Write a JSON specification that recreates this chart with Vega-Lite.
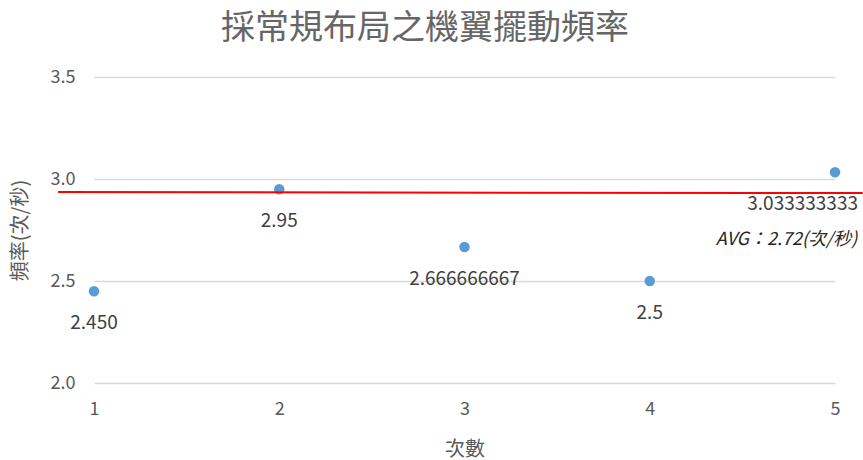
{
  "$schema": "https://vega.github.io/schema/vega-lite/v6.json",
  "autosize": {"type": "none"},
  "width": 741,
  "height": 306,
  "padding": {"left": 94, "top": 77, "right": 28, "bottom": 77},
  "background": "white",
  "config": {
    "view": {"stroke": null},
    "font": "Noto Sans CJK TC",
    "axis": {"labelFont": "Noto Sans CJK TC", "titleFont": "Noto Sans CJK TC", "labelColor": "#595959", "titleColor": "#595959", "labelFontSize": 18, "titleFontSize": 20, "titleFontWeight": "normal", "domain": false, "ticks": false, "gridColor": "#d9d9d9", "gridWidth": 1.3, "labelFlush": false}
  },
  "title": {"text": "採常規布局之機翼擺動頻率", "font": "Noto Sans CJK TC", "fontSize": 34, "fontWeight": "normal", "color": "#666666", "anchor": "middle", "frame": "bounds", "offset": 22, "dx": -12},
  "datasets": {
    "pts": [
      {"trial": 1, "freq": 2.45, "label": "2.450"},
      {"trial": 2, "freq": 2.95, "label": "2.95"},
      {"trial": 3, "freq": 2.666666667, "label": "2.666666667"},
      {"trial": 4, "freq": 2.5, "label": "2.5"},
      {"trial": 5, "freq": 3.033333333, "label": "3.033333333"}
    ],
    "avg": [
      {"x1": 0.806, "y1": 2.936, "x2": 5.15, "y2": 2.931}
    ],
    "note": [
      {"trial": 5.12, "freq": 2.70, "label": "AVG：2.72(次/秒)"}
    ]
  },
  "layer": [
    {
      "data": {"name": "pts"},
      "mark": {"type": "point", "filled": true, "size": 110, "color": "#5b9bd5", "opacity": 1},
      "encoding": {
        "x": {"field": "trial", "type": "quantitative", "scale": {"domain": [1, 5], "nice": false, "zero": false}, "axis": {"values": [1, 2, 3, 4, 5], "grid": false, "title": "次數", "labelPadding": 17, "titlePadding": 21, "format": "d"}},
        "y": {"field": "freq", "type": "quantitative", "scale": {"domain": [2, 3.5], "nice": false, "zero": false}, "axis": {"values": [2, 2.5, 3, 3.5], "format": ".1f", "title": "頻率(次/秒)", "labelPadding": 19, "titlePadding": 20}}
      }
    },
    {
      "data": {"name": "avg"},
      "mark": {"type": "rule", "color": "#ff0000", "strokeWidth": 2, "clip": false},
      "encoding": {
        "x": {"field": "x1", "type": "quantitative"},
        "x2": {"field": "x2"},
        "y": {"field": "y1", "type": "quantitative"},
        "y2": {"field": "y2"}
      }
    },
    {
      "data": {"name": "pts"},
      "transform": [{"filter": "datum.trial < 5"}],
      "mark": {"type": "text", "dy": 32, "fontSize": 19, "color": "#404040", "font": "Noto Sans CJK TC"},
      "encoding": {
        "x": {"field": "trial", "type": "quantitative"},
        "y": {"field": "freq", "type": "quantitative"},
        "text": {"field": "label"}
      }
    },
    {
      "data": {"name": "pts"},
      "transform": [{"filter": "datum.trial == 5"}],
      "mark": {"type": "text", "dy": 32, "dx": 23, "align": "right", "fontSize": 19, "color": "#404040", "font": "Noto Sans CJK TC"},
      "encoding": {
        "x": {"field": "trial", "type": "quantitative"},
        "y": {"field": "freq", "type": "quantitative"},
        "text": {"field": "label"}
      }
    },
    {
      "data": {"name": "note"},
      "mark": {"type": "text", "align": "right", "fontSize": 18, "fontStyle": "italic", "color": "#262626", "font": "Noto Sans CJK TC", "clip": false},
      "encoding": {
        "x": {"field": "trial", "type": "quantitative"},
        "y": {"field": "freq", "type": "quantitative"},
        "text": {"field": "label"}
      }
    }
  ]
}
